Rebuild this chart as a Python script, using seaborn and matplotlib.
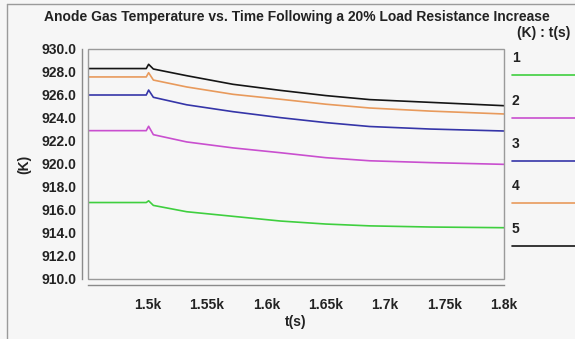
import numpy as np
import pandas as pd
import matplotlib
matplotlib.use("Agg")
import matplotlib.pyplot as plt
from matplotlib.lines import Line2D
from matplotlib.patches import Rectangle
import seaborn as sns

# Sample times (s) and anode gas temperatures (K) for the five probes
time_s = [1450, 1499, 1501, 1505, 1533, 1572, 1612, 1650, 1687, 1738, 1800]
temp_1 = [916.65, 916.65, 916.80, 916.40, 915.85, 915.45, 915.04, 914.78, 914.62, 914.52, 914.46]
temp_2 = [922.90, 922.90, 923.28, 922.55, 921.92, 921.40, 920.98, 920.55, 920.28, 920.12, 919.97]
temp_3 = [926.00, 926.00, 926.43, 925.80, 925.15, 924.55, 924.03, 923.60, 923.26, 923.04, 922.87]
temp_4 = [927.57, 927.57, 927.94, 927.30, 926.70, 926.06, 925.63, 925.20, 924.87, 924.60, 924.35]
temp_5 = [928.30, 928.30, 928.67, 928.26, 927.68, 926.93, 926.40, 925.95, 925.60, 925.36, 925.07]

series_names = ["1", "2", "3", "4", "5"]
series_values = [temp_1, temp_2, temp_3, temp_4, temp_5]
series_colors = ["#3fcf3f", "#c94fcf", "#3535a8", "#e89a5c", "#151515"]

x_ticks = [1500, 1550, 1600, 1650, 1700, 1750, 1800]
x_tick_labels = ["1.5k", "1.55k", "1.6k", "1.65k", "1.7k", "1.75k", "1.8k"]
y_ticks = [910, 912, 914, 916, 918, 920, 922, 924, 926, 928, 930]
y_tick_labels = [f"{v:.1f}" for v in y_ticks]

df = pd.DataFrame({
    "t": np.tile(time_s, len(series_names)),
    "K": np.concatenate(series_values),
    "probe": np.repeat(series_names, len(time_s)),
})

sns.set_style("white")
plt.rcParams["font.family"] = ["Liberation Sans", "DejaVu Sans"]
plt.rcParams["font.weight"] = "bold"

W, H = 575, 339
bg = "#f6f6f6"
txt = "#222222"
fs = 10
fig = plt.figure(figsize=(W / 100, H / 100), dpi=100, facecolor=bg)
ax = fig.add_axes([88 / W, 1 - 279 / H, (504 - 88) / W, (279 - 49) / H])
ax.set_facecolor(bg)

sns.lineplot(data=df, x="t", y="K", hue="probe", palette=dict(zip(series_names, series_colors)),
             linewidth=1.2, legend=False, ax=ax, estimator=None, sort=False)

ax.set_xlim(1450, 1800)
ax.set_ylim(910, 930)
ax.set_xticks(x_ticks)
ax.set_xticklabels(x_tick_labels)
ax.set_yticks(y_ticks)
ax.set_yticklabels(y_tick_labels)

# plot frame plus offset axis lines
for side in ["top", "right"]:
    ax.spines[side].set_visible(False)
for side in ["left", "bottom"]:
    ax.spines[side].set_position(("outward", 4))
    ax.spines[side].set_color("#8a8a8a")
    ax.spines[side].set_linewidth(1.0)
ax.add_patch(Rectangle((0, 0), 1, 1, transform=ax.transAxes, fill=False,
                       edgecolor="#9a9a9a", linewidth=1.0, clip_on=False, zorder=5))

ax.tick_params(axis="x", direction="out", length=6, width=1, color="#8a8a8a",
               labelsize=fs, pad=4, labelcolor=txt)
ax.tick_params(axis="y", direction="out", length=4, width=1, color="#8a8a8a",
               labelsize=fs, pad=0.5, labelcolor=txt)
for lab in ax.get_xticklabels() + ax.get_yticklabels():
    lab.set_fontweight("bold")

ax.set_xlabel("t(s)", fontsize=fs, fontweight="bold", color=txt, labelpad=2)
ax.set_ylabel("(K)", fontsize=fs, fontweight="bold", color=txt, labelpad=7)

fig.text(297 / W, 1 - 17 / H, "Anode Gas Temperature vs. Time Following a 20% Load Resistance Increase",
         ha="center", va="center", fontsize=fs, fontweight="bold", color=txt)
fig.text(570 / W, 1 - 33 / H, "(K) : t(s)", ha="right", va="center",
         fontsize=fs, fontweight="bold", color=txt)

# side legend: number above a colored line segment
for i, (name, color) in enumerate(zip(series_names, series_colors)):
    y_text = 58 + i * 42.8
    y_line = 75 + i * 42.8
    fig.text(512 / W, 1 - y_text / H, name, ha="left", va="center",
             fontsize=fs, fontweight="bold", color=txt)
    fig.add_artist(Line2D([512 / W, 1.0], [1 - y_line / H] * 2, color=color,
                          linewidth=1.2, transform=fig.transFigure))

# outer panel border
fig.add_artist(Line2D([7 / W, 7 / W], [0, 1 - 4 / H], color="#9a9a9a", linewidth=1.0,
                      transform=fig.transFigure))
fig.add_artist(Line2D([7 / W, 1.0], [1 - 4 / H] * 2, color="#9a9a9a", linewidth=1.0,
                      transform=fig.transFigure))

fig.savefig("out.png", dpi=100, facecolor=bg)
